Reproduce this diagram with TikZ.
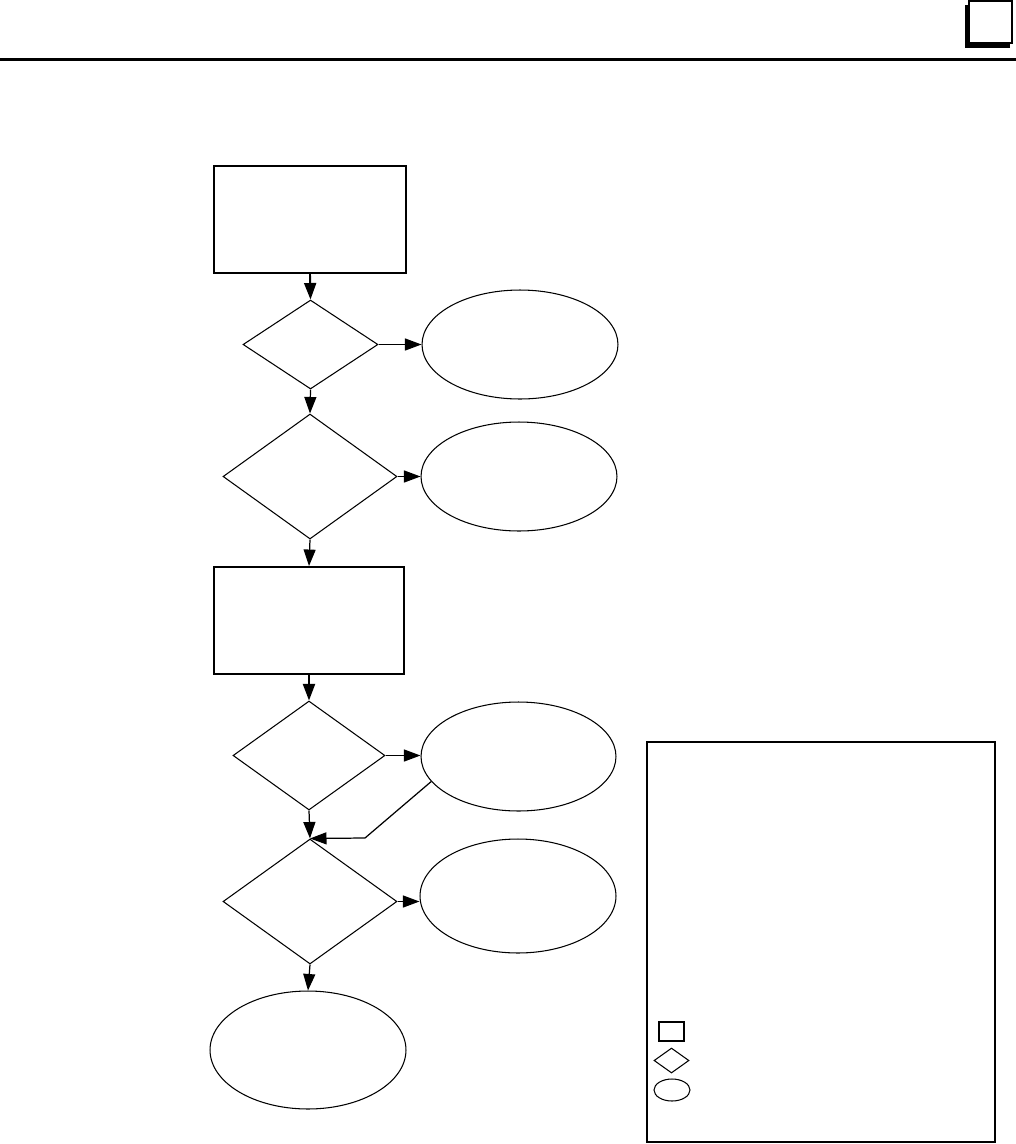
\documentclass[tikz,border=0pt]{standalone}
\usepackage{tikz}
\usetikzlibrary{shapes.geometric,arrows.meta}

\begin{document}
\begin{tikzpicture}[x={(0.02cm,0cm)}, y={(0cm,-0.02cm)},
  stepbox/.style={draw,rectangle,line width=1.1pt,inner sep=0pt},
  choice/.style={draw,diamond,line width=0.6pt,inner sep=0pt},
  endnode/.style={draw,ellipse,line width=0.6pt,inner sep=0pt},
  arr/.style={line width=0.7pt,-{Triangle[length=0.33cm,width=0.24cm]}}]
  \useasboundingbox (0,0) rectangle (1016,1144);
  % Header
  \draw[line width=1.2pt] (0,59.5) -- (1016,59.5);
  \fill (965,5) rectangle (1010,48);
  \draw[fill=white,line width=0.6pt] (969,1) rectangle (1012,43);
  % Nodes
  \node[stepbox,minimum width=3.84cm,minimum height=2.14cm] (Start) at (310,219.5) {};
  \node[choice,minimum width=2.7cm,minimum height=1.78cm] (CheckA) at (310.5,344.5) {};
  \node[endnode,minimum width=3.92cm,minimum height=2.18cm] (ExitA) at (520,344.5) {};
  \node[choice,minimum width=3.48cm,minimum height=2.5cm] (CheckB) at (310,476.5) {};
  \node[endnode,minimum width=3.92cm,minimum height=2.18cm] (ExitB) at (519,476.5) {};
  \node[stepbox,minimum width=3.8cm,minimum height=2.14cm] (Work) at (309,620.5) {};
  \node[choice,minimum width=3.04cm,minimum height=2.18cm] (CheckC) at (309,755.5) {};
  \node[endnode,minimum width=3.9cm,minimum height=2.18cm] (ExitC) at (518.5,756.5) {};
  \node[choice,minimum width=3.48cm,minimum height=2.5cm] (CheckD) at (310,901.5) {};
  \node[endnode,minimum width=3.92cm,minimum height=2.28cm] (ExitD) at (518,896) {};
  \node[endnode,minimum width=3.92cm,minimum height=2.36cm] (Done) at (308,1050) {};
  \coordinate (Back) at (365,838);
  % Edges
  \draw[arr,line width=1.1pt] (Start.south) -- (CheckA.north);
  \draw[arr] (CheckA.east) -- (ExitA.west);
  \draw[arr] (CheckA.south) -- (CheckB.north);
  \draw[arr] (CheckB.east) -- (ExitB.west);
  \draw[arr] (CheckB.south) -- (Work.north);
  \draw[arr,line width=1.1pt] (Work.south) -- (CheckC.north);
  \draw[arr] (CheckC.east) -- (CheckC.east -| ExitC.west);
  \draw[arr] (CheckC.south) -- (CheckD.north);
  \draw[arr] (ExitC.196) -- (Back) -- (CheckD.north);
  \draw[arr] (CheckD.east) -- (CheckD.east -| ExitD.west);
  \draw[arr] (CheckD.south) -- (Done.north);
  % Legend
  \draw[line width=1.1pt] (647,742) rectangle (995,1142);
  \node[stepbox,minimum width=0.5cm,minimum height=0.38cm] (KeyStep) at (671.5,1031.5) {};
  \node[choice,minimum width=0.7cm,minimum height=0.5cm] (KeyChoice) at (671.5,1060.5) {};
  \node[endnode,minimum width=0.72cm,minimum height=0.44cm] (KeyEnd) at (672,1090) {};
\end{tikzpicture}
\end{document}
